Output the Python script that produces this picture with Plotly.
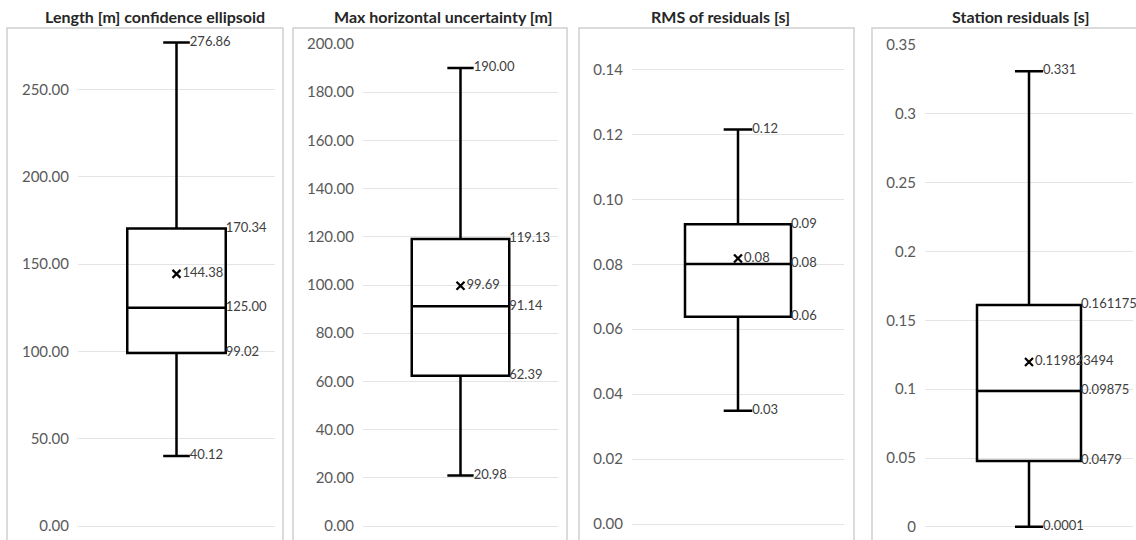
import plotly.graph_objects as go

# Box-plot statistics for the four panels
titles = [
    "Length [m] confidence ellipsoid",
    "Max horizontal uncertainty [m]",
    "RMS of residuals [s]",
    "Station residuals [s]",
]
upper = [276.86, 190.00, 0.1215, 0.331]
q3 = [170.34, 119.13, 0.0923, 0.161175]
median = [125.00, 91.14, 0.0801, 0.09875]
q1 = [99.02, 62.39, 0.0638, 0.0479]
lower = [40.12, 20.98, 0.0349, 0.0001]
mean = [144.38, 99.69, 0.0818, 0.119823494]
label_fmt = ["{:.2f}", "{:.2f}", "{:.2f}", None]

y_ranges = [[0, 280], [0, 200], [0, 0.15], [-0.0015, 0.35]]
y_dtick = [50, 20, 0.02, 0.05]
y_tickformat = [".2f", ".2f", ".2f", ""]

W, H = 1136, 540
# plot areas in pixels: (left, right, top, bottom)
areas = [(78, 275, 37, 526), (363, 558, 44, 526), (632, 844, 37, 524), (925, 1133, 45, 529)]
frames = [(7, 283), (293, 567), (579, 854), (872, 1160)]
title_x = [155, 443, 720, 1020]

BOX_W = 1.0
WHISK = 0.27
FONT = "Lato"
LABEL_COLOR = "#404040"


def fmt(v, f):
    return f.format(v) if f else str(v)


fig = go.Figure()
layout = dict(
    width=W, height=H, margin=dict(l=0, r=0, t=0, b=0, autoexpand=False),
    paper_bgcolor="white", plot_bgcolor="white", showlegend=False,
    shapes=[], annotations=[],
)

for i in range(4):
    n = "" if i == 0 else str(i + 1)
    xa, ya = "x" + n, "y" + n
    left, right, top, bottom = areas[i]
    layout["xaxis" + n] = dict(
        domain=[left / W, right / W], range=[-1, 1], visible=False,
        anchor=ya, fixedrange=True, automargin=False,
    )
    layout["yaxis" + n] = dict(
        domain=[(H - bottom) / H, (H - top) / H], range=y_ranges[i],
        anchor=xa, dtick=y_dtick[i], tick0=0, tickformat=y_tickformat[i],
        showgrid=True, gridcolor="#e4e4e4", gridwidth=1,
        zeroline=True, zerolinecolor="#e4e4e4", zerolinewidth=1,
        showline=False, ticks="", ticklabelstandoff=8, automargin=False,
        tickfont=dict(family=FONT, size=15, color="#595959"),
        fixedrange=True,
    )

    fig.add_trace(go.Box(
        x=[0], q1=[q1[i]], median=[median[i]], q3=[q3[i]],
        lowerfence=[lower[i]], upperfence=[upper[i]],
        width=BOX_W, whiskerwidth=WHISK, boxpoints=False,
        line=dict(color="black", width=2.5), fillcolor="rgba(0,0,0,0)",
        hoverinfo="skip", xaxis=xa, yaxis=ya,
    ))

    f = label_fmt[i]
    text_font = dict(family=FONT, size=13, color=LABEL_COLOR)
    # quartile labels at the right edge of the box
    fig.add_trace(go.Scatter(
        x=[BOX_W / 2] * 3, y=[q3[i], median[i], q1[i]], mode="text",
        text=[fmt(v, f) for v in (q3[i], median[i], q1[i])],
        textposition="middle right", textfont=text_font,
        cliponaxis=False, hoverinfo="skip", xaxis=xa, yaxis=ya,
    ))
    # whisker labels at the end of the caps
    fig.add_trace(go.Scatter(
        x=[BOX_W * WHISK / 2] * 2, y=[upper[i], lower[i]], mode="text",
        text=[fmt(v, f) for v in (upper[i], lower[i])],
        textposition="middle right", textfont=text_font,
        cliponaxis=False, hoverinfo="skip", xaxis=xa, yaxis=ya,
    ))
    # mean marker
    fig.add_trace(go.Scatter(
        x=[0], y=[mean[i]], mode="markers+text",
        marker=dict(symbol="x-thin", size=8, line=dict(color="black", width=2.2)),
        text=[fmt(mean[i], f)], textposition="middle right", textfont=text_font,
        cliponaxis=False, hoverinfo="skip", xaxis=xa, yaxis=ya,
    ))

    # panel frame
    fl, fr = frames[i]
    layout["shapes"].append(dict(
        type="rect", xref="paper", yref="paper",
        x0=fl / W, x1=fr / W, y0=-0.05, y1=(H - 28) / H,
        line=dict(color="#cfcfcf", width=1.5), fillcolor="rgba(0,0,0,0)",
        layer="below",
    ))
    # panel title
    layout["annotations"].append(dict(
        text="<b>" + titles[i] + "</b>", xref="paper", yref="paper",
        x=title_x[i] / W, y=(H - 16) / H, xanchor="center", yanchor="middle",
        showarrow=False, font=dict(family=FONT, size=16, color="#262626"),
    ))

fig.update_layout(**layout)
fig.write_html("out.html")
